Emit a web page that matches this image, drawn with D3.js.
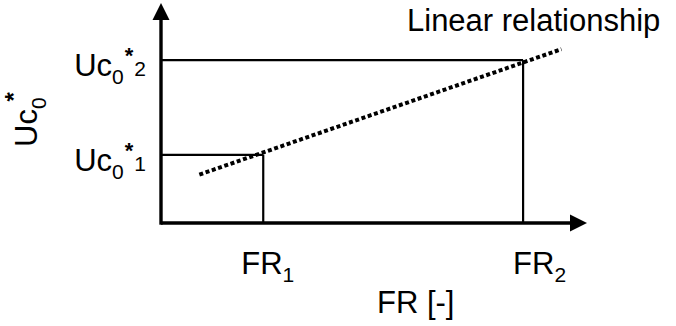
<!DOCTYPE html>
<html lang="en">
  <head>
    <meta charset="utf-8">
    <title>FR vs Uc0*</title>
    <style type="text/css">
    body { margin: 0; background: #fff; }
    text {
      font-family: "Liberation Sans", Arial, sans-serif;
      fill: #000;
    }
    .star { font-weight: bold; }
    </style>
  </head>
  <body>
    <script src="https://cdn.jsdelivr.net/npm/d3@7"></script>
    <div id="chart"></div>
    <script type="text/javascript">

    // values in arbitrary units (0-100 on both axes)
    var frValues = [24, 85];          // FR1, FR2
    var frSubs = ["1", "2"];
    var ucValues = [31, 74];          // Uc0*1, Uc0*2
    var ucSubs = ["1", "2"];
    var linePoints = [[9, 22], [94, 79]];   // dotted "linear relationship"

    var width = 676,
        height = 326,
        fontSize = 31,
        subSize = 21;

    var svg = d3.select("#chart")
        .append("svg")
        .attr("width", width)
        .attr("height", height);

    var x = d3.scaleLinear().domain([0, 100]).range([161, 587]);
    var y = d3.scaleLinear().domain([0, 100]).range([223, 3]);

    // guide lines from axes to the two points
    frValues.forEach(function(fr, i) {
      svg.append("line")
        .attr("x1", x(0)).attr("x2", x(fr))
        .attr("y1", y(ucValues[i])).attr("y2", y(ucValues[i]))
        .attr("stroke", "#000").attr("stroke-width", 2.2);
      svg.append("line")
        .attr("x1", x(fr)).attr("x2", x(fr))
        .attr("y1", y(0)).attr("y2", y(ucValues[i]))
        .attr("stroke", "#000").attr("stroke-width", 2.2);
    });

    // dotted line
    svg.append("path")
      .datum(linePoints)
      .attr("d", d3.line().x(function(d) { return x(d[0]); }).y(function(d) { return y(d[1]); }))
      .attr("fill", "none")
      .attr("stroke", "#000")
      .attr("stroke-width", 4)
      .attr("stroke-dasharray", "4,2.6");

    // axes (no ticks, just the arrows)
    svg.append("line")
      .attr("x1", x(0)).attr("x2", x(100) - 14)
      .attr("y1", y(0)).attr("y2", y(0))
      .attr("stroke", "#000").attr("stroke-width", 3.4);
    svg.append("line")
      .attr("x1", x(0)).attr("x2", x(0))
      .attr("y1", y(0) + 1.7).attr("y2", y(100) + 14)
      .attr("stroke", "#000").attr("stroke-width", 3.4);

    svg.append("path")
      .attr("d", "M" + x(100) + "," + y(0) + "l-17,-8.5v17z");
    svg.append("path")
      .attr("d", "M" + x(0) + "," + y(100) + "l-8.5,17h17z");

    // Uc0* tick labels
    ucValues.forEach(function(v, i) {
      var t = svg.append("text")
        .attr("x", 146)
        .attr("y", y(v) + 16)
        .attr("text-anchor", "end")
        .style("font-size", fontSize + "px");
      t.append("tspan").text("Uc");
      t.append("tspan").attr("dy", 8).style("font-size", subSize + "px").text("0");
      t.append("tspan").attr("class", "star").attr("dy", -21).attr("dx", 1).style("font-size", "22px").text("*");
      t.append("tspan").attr("dy", 13).attr("dx", 1).style("font-size", subSize + "px").text(ucSubs[i]);
    });

    // FR tick labels
    frValues.forEach(function(v, i) {
      var t = svg.append("text")
        .attr("x", x(v) - 22 + i * 12)
        .attr("y", 274)
        .style("font-size", fontSize + "px");
      t.append("tspan").text("FR");
      t.append("tspan").attr("dy", 8).style("font-size", subSize + "px").text(frSubs[i]);
    });

    // axis titles
    svg.append("text")
      .attr("x", 377)
      .attr("y", 313)
      .style("font-size", fontSize + "px")
      .text("FR [-]");

    var yl = svg.append("text")
      .attr("transform", "translate(37,147) rotate(-90)")
      .style("font-size", fontSize + "px");
    yl.append("tspan").text("Uc");
    yl.append("tspan").attr("dy", 9).style("font-size", subSize + "px").text("0");
    yl.append("tspan").attr("class", "star").attr("dy", -24).attr("dx", -4).style("font-size", "24px").text("*");

    svg.append("text")
      .attr("x", 407)
      .attr("y", 31)
      .style("font-size", fontSize + "px")
      .text("Linear relationship");

    </script>
  </body>
</html>
